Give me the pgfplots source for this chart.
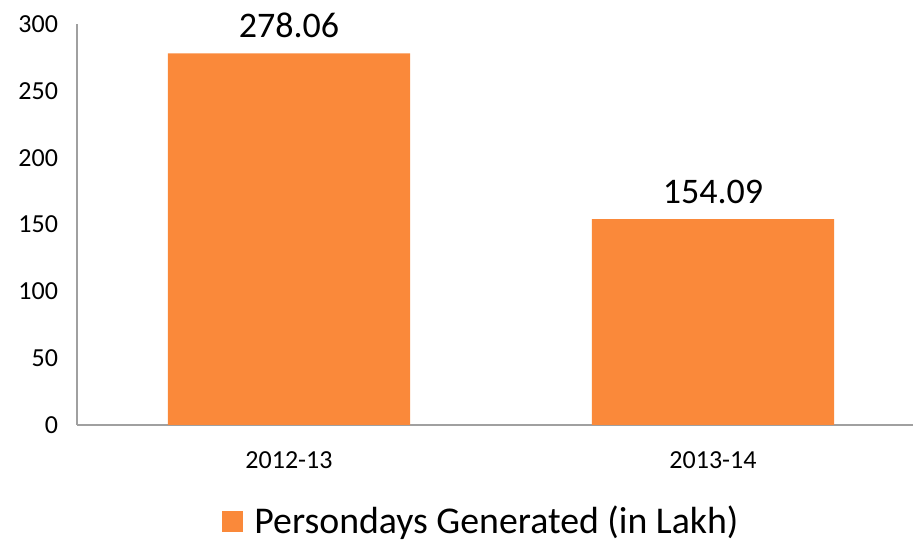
\documentclass[border=0pt]{standalone}
\usepackage{fontspec}
\setmainfont{Carlito}
\usepackage{pgfplots}
\pgfplotsset{compat=1.18}
\definecolor{barorange}{RGB}{250,137,58}
\definecolor{axgray}{RGB}{160,160,160}
\begin{document}
\begin{tikzpicture}
\begin{axis}[
  scale only axis,
  width=418pt, height=200.5pt,
  xmin=-0.5, xmax=1.4717,
  ymin=0, ymax=300,
  ytick={0,50,...,300},
  xtick={0,1},
  xticklabels={2012-13,2013-14},
  major tick length=0pt,
  axis x line=bottom, axis y line=left,
  axis line style={axgray, line width=0.7pt, -},
  /pgf/number format/assume math mode=true,
  yticklabel style={font=\fontsize{13}{15}\selectfont, xshift=-6pt},
  xticklabel style={font=\fontsize{13}{15}\selectfont, yshift=-10pt},
  ybar, bar width=0.571,
  nodes near coords,
  nodes near coords style={font=\fontsize{18}{20}\selectfont, yshift=4pt, /pgf/number format/fixed, /pgf/number format/fixed zerofill, /pgf/number format/precision=2, /pgf/number format/assume math mode=true},
  legend style={at={(0.485,-0.241)}, anchor=center, draw=none, font=\fontsize{18.9}{21}\selectfont, inner sep=0pt},
  legend image code/.code={\fill[#1] (0pt,-5.25pt) rectangle (10.5pt,5.25pt); \path (14pt,0pt);},
  clip=false,
]
\addplot[fill=barorange, draw=none] coordinates {(0,278.06) (1,154.09)};
\addlegendentry{Persondays Generated (in Lakh)}
\end{axis}
\pgfresetboundingbox
\path[use as bounding box] ([xshift=-38.5pt,yshift=-59pt]current axis.south west) rectangle ([yshift=12pt]current axis.north east);
\end{tikzpicture}
\end{document}
